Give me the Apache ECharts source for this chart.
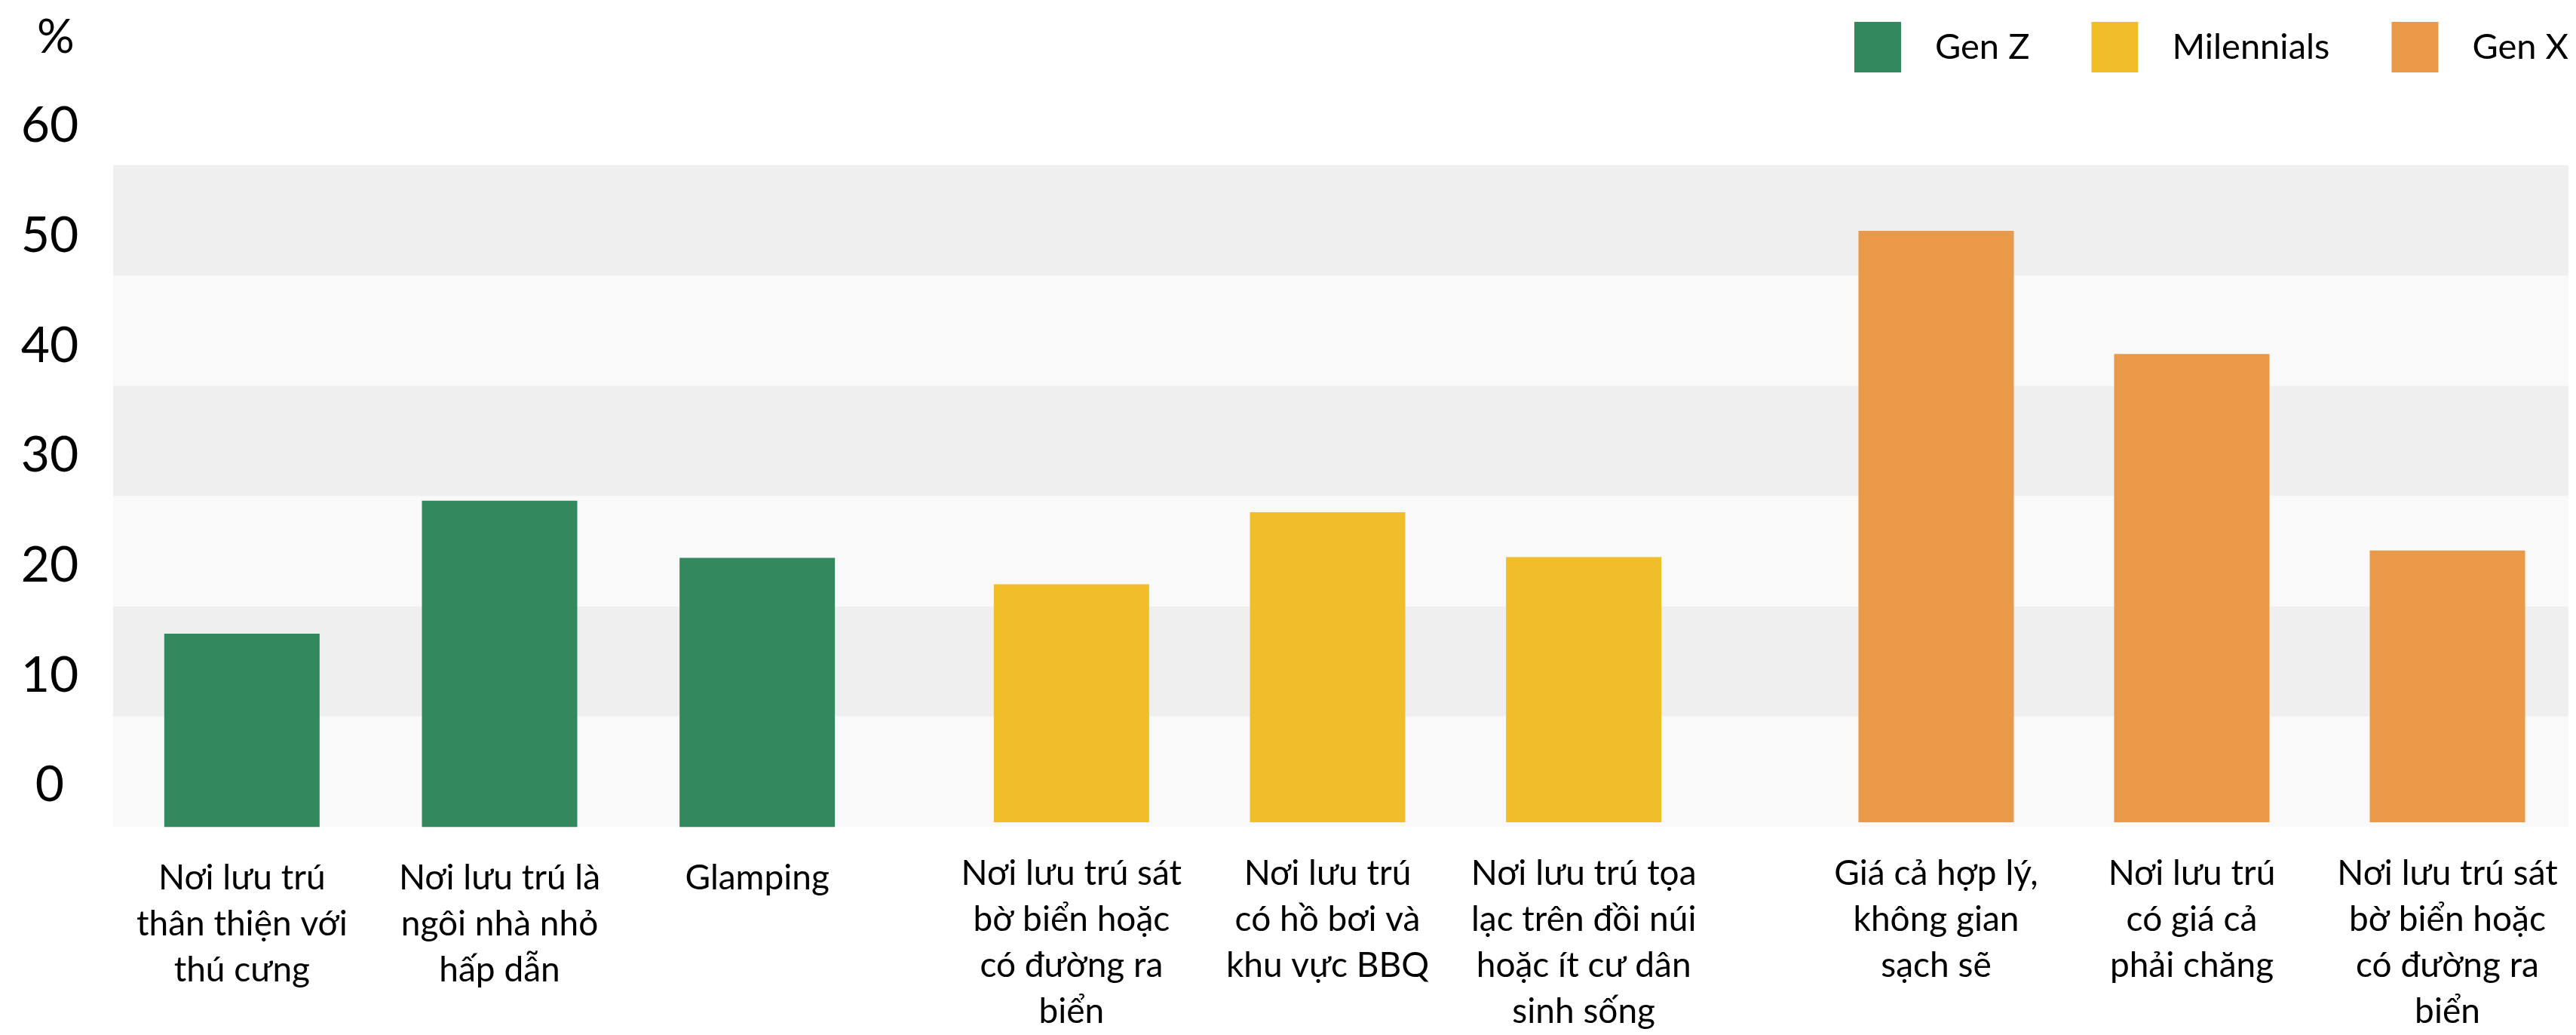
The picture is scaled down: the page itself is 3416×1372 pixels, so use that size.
<!DOCTYPE html>
<html>
<head>
<meta charset="utf-8">
<script src="https://cdn.jsdelivr.net/npm/echarts@6/dist/echarts.min.js"></script>
<style>
  html, body { margin: 0; padding: 0; background: #ffffff; }
  #chart { width: 3416px; height: 1372px; }
</style>
</head>
<body>
<div id="chart"></div>
<script>
// ---- Data ----
const seriesNames = ['Gen Z', 'Milennials', 'Gen X'];
const categoriesGenZ = [
  'Nơi lưu trú\nthân thiện với\nthú cưng',
  'Nơi lưu trú là\nngôi nhà nhỏ\nhấp dẫn',
  'Glamping'
];
const categoriesMillennials = [
  'Nơi lưu trú sát\nbờ biển hoặc\ncó đường ra\nbiển',
  'Nơi lưu trú\ncó hồ bơi và\nkhu vực BBQ',
  'Nơi lưu trú tọa\nlạc trên đồi núi\nhoặc ít cư dân\nsinh sống'
];
const categoriesGenX = [
  'Giá cả hợp lý,\nkhông gian\nsạch sẽ',
  'Nơi lưu trú\ncó giá cả\nphải chăng',
  'Nơi lưu trú sát\nbờ biển hoặc\ncó đường ra\nbiển'
];
const valuesGenZ = [13.8, 25.9, 20.7];
const valuesMillennials = [18.0, 24.6, 20.5];
const valuesGenX = [50.4, 39.1, 21.1];
const yMin = 0, yMax = 60, yInterval = 10;
const barBaseValue = -3.8;   // bars are drawn from below the "0" label
const bandCount = 6;

// ---- Styles ----
const FONT = 'Lato';
const colors = ['#33895D', '#F0BE28', '#EA9948'];

const chart = echarts.init(document.getElementById('chart'), null, { renderer: 'canvas' });

const barGrids = [
  { left: 150, width: 1025, top: 167, bottom: 331 },
  { left: 1251, width: 1019, top: 167, bottom: 331 },
  { left: 2398, width: 1017, top: 167, bottom: 331 }
];
const groupCats = [categoriesGenZ, categoriesMillennials, categoriesGenX];
const groupVals = [valuesGenZ, valuesMillennials, valuesGenX];

const option = {
  backgroundColor: '#ffffff',
  animation: false,
  textStyle: { fontFamily: FONT },
  title: {
    text: '%', left: 44, top: 14,
    textStyle: { fontFamily: FONT, fontSize: 62, fontWeight: 'normal', color: '#000' }
  },
  legend: {
    data: seriesNames,
    left: 2459, top: 29, right: 0,
    padding: 0,
    itemWidth: 62, itemHeight: 67, itemGap: 82,
    icon: 'rect',
    textStyle: { fontFamily: FONT, fontSize: 47, color: '#000', padding: [0, 0, 0, 40] }
  },
  grid: [
    { left: 150, right: 10, top: 219, bottom: 276, containLabel: false }
  ].concat(barGrids.map(g => Object.assign({ containLabel: false }, g))),
  xAxis: [
    { gridIndex: 0, type: 'value', show: false, min: 0, max: 1 }
  ].concat(groupCats.map((cats, i) => ({
    gridIndex: i + 1,
    type: 'category',
    data: cats,
    axisLine: { show: false },
    axisTick: { show: false },
    axisLabel: {
      interval: 0, margin: 93,
      fontFamily: FONT, fontSize: 46, lineHeight: 61, color: '#000', align: 'center'
    }
  }))),
  yAxis: [
    {
      gridIndex: 0, type: 'value', min: 0, max: bandCount, interval: 1,
      axisLine: { show: false }, axisTick: { show: false }, axisLabel: { show: false },
      splitLine: { show: false },
      splitArea: { show: true, areaStyle: { color: ['#F9F9F9', '#EFEFEF'] } }
    }
  ].concat(groupCats.map((cats, i) => ({
    gridIndex: i + 1,
    type: 'value', min: yMin, max: yMax, interval: yInterval,
    startValue: barBaseValue,
    axisLine: { show: false }, axisTick: { show: false },
    splitLine: { show: false }, splitArea: { show: false },
    axisLabel: i === 0 ? {
      show: true, margin: 84, align: 'center',
      fontFamily: FONT, fontSize: 66, color: '#000'
    } : { show: false }
  }))),
  series: seriesNames.map((name, i) => ({
    name: name,
    type: 'bar',
    xAxisIndex: i + 1,
    yAxisIndex: i + 1,
    data: groupVals[i],
    barWidth: 206,
    clip: false,
    itemStyle: { color: colors[i] }
  }))
};

chart.setOption(option);
</script>
</body>
</html>
